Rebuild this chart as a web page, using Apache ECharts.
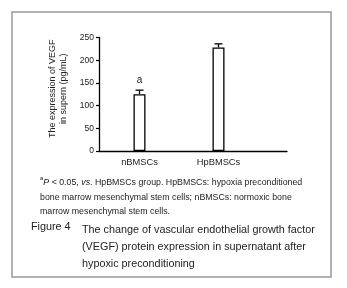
<!DOCTYPE html>
<html><head><meta charset="utf-8">
<script src="https://cdn.jsdelivr.net/npm/echarts@6/dist/echarts.min.js"></script>
<style>html,body{margin:0;padding:0;background:#fff}#c{width:347px;height:288px}</style>
</head><body><div id="c"></div>
<script>
var categories = ['nBMSCs', 'HpBMSCs'];
var values = [125, 228];
var errors = [9, 8];
var marks = ['a', ''];
var yTicks = [0, 50, 100, 150, 200, 250];

var chart = echarts.init(document.getElementById('c'), null, {renderer: 'canvas'});
var F = '"Liberation Sans", Arial, sans-serif';
var option = {
  animation: false,
  backgroundColor: '#fff',
  grid: [
    {left: 99, width: 188, top: 37.5, height: 113.5},
    {left: 100, width: 158, top: 37.5, height: 113.5}
  ],
  xAxis: [
    {gridIndex: 0, type: 'value', min: 0, max: 1, axisLine: {show: true, onZero: false, lineStyle: {color: '#000', width: 1.3}}, axisTick: {show: false}, axisLabel: {show: false}, splitLine: {show: false}},
    {gridIndex: 1, type: 'category', data: categories, axisLine: {show: false}, axisTick: {show: false}, splitLine: {show: false},
     axisLabel: {margin: 7, fontFamily: F, fontSize: 9.3, color: '#222'}}
  ],
  yAxis: [
    {gridIndex: 0, type: 'value', min: yTicks[0], max: yTicks[yTicks.length - 1], interval: 50,
     axisLine: {show: true, lineStyle: {color: '#000', width: 1.3}}, axisTick: {show: true, length: 3, lineStyle: {color: '#000', width: 1.2}},
     axisLabel: {margin: 5, fontFamily: F, fontSize: 8.5, color: '#222'}, splitLine: {show: false},
     name: 'The expression of VEGF\nin supern (pg/mL)', nameLocation: 'middle', nameGap: 27, nameRotate: 90,
     nameTextStyle: {fontFamily: F, fontSize: 9, color: '#222', lineHeight: 11, padding: [0, 0, 0, 11]}},
    {gridIndex: 1, type: 'value', min: 0, max: 250, show: false}
  ],
  series: [
    {type: 'bar', xAxisIndex: 1, yAxisIndex: 1, data: values, barWidth: 12,
     itemStyle: {color: '#fff', borderColor: '#000', borderWidth: 1.3}},
    {type: 'custom', xAxisIndex: 1, yAxisIndex: 1,
     data: categories.map(function (c, i) { return [i, values[i], errors[i]]; }),
     renderItem: function (params, api) {
       var i = api.value(0);
       var top = api.coord([i, api.value(1) + api.value(2)]);
       var base = api.coord([i, api.value(1)]);
       var children = [
         {type: 'line', shape: {x1: top[0], y1: base[1], x2: top[0], y2: top[1]}, style: {stroke: '#000', lineWidth: 1.3}},
         {type: 'line', shape: {x1: top[0] - 4, y1: top[1], x2: top[0] + 4, y2: top[1]}, style: {stroke: '#000', lineWidth: 1.3}}
       ];
       if (marks[i]) {
         children.push({type: 'text', style: {text: marks[i], x: top[0], y: top[1] - 10, align: 'center', verticalAlign: 'middle', font: '10px ' + F, fill: '#222'}});
       }
       return {type: 'group', children: children};
     }}
  ],
  graphic: [
    {type: 'rect', shape: {x: 12, y: 12, width: 319, height: 265}, style: {fill: 'none', stroke: '#999', lineWidth: 1.5}, z: 100},
    {type: 'text', left: 40, top: 175.5, style: {
      text: '{sup|a}{it|P} < 0.05, {it|vs}. HpBMSCs group. HpBMSCs: hypoxia preconditioned\nbone marrow mesenchymal stem cells; nBMSCs: normoxic bone\nmarrow mesenchymal stem cells.',
      font: '8.8px ' + F, fill: '#222', lineHeight: 14.5,
      rich: {sup: {fontSize: 6, verticalAlign: 'top', fontFamily: F, fill: '#222', padding: [0, 0, 4, 0]}, it: {fontStyle: 'italic', fontSize: 8.8, fontFamily: F, fill: '#222'}}
    }},
    {type: 'text', left: 31, top: 222, style: {text: 'Figure 4', font: '10.8px ' + F, fill: '#222'}},
    {type: 'text', left: 82, top: 222, style: {
      text: 'The change of vascular endothelial growth factor\n(VEGF) protein expression in supernatant after\nhypoxic preconditioning',
      font: '10.8px ' + F, fill: '#222', lineHeight: 16.7}}
  ]
};
chart.setOption(option);
</script></body></html>
